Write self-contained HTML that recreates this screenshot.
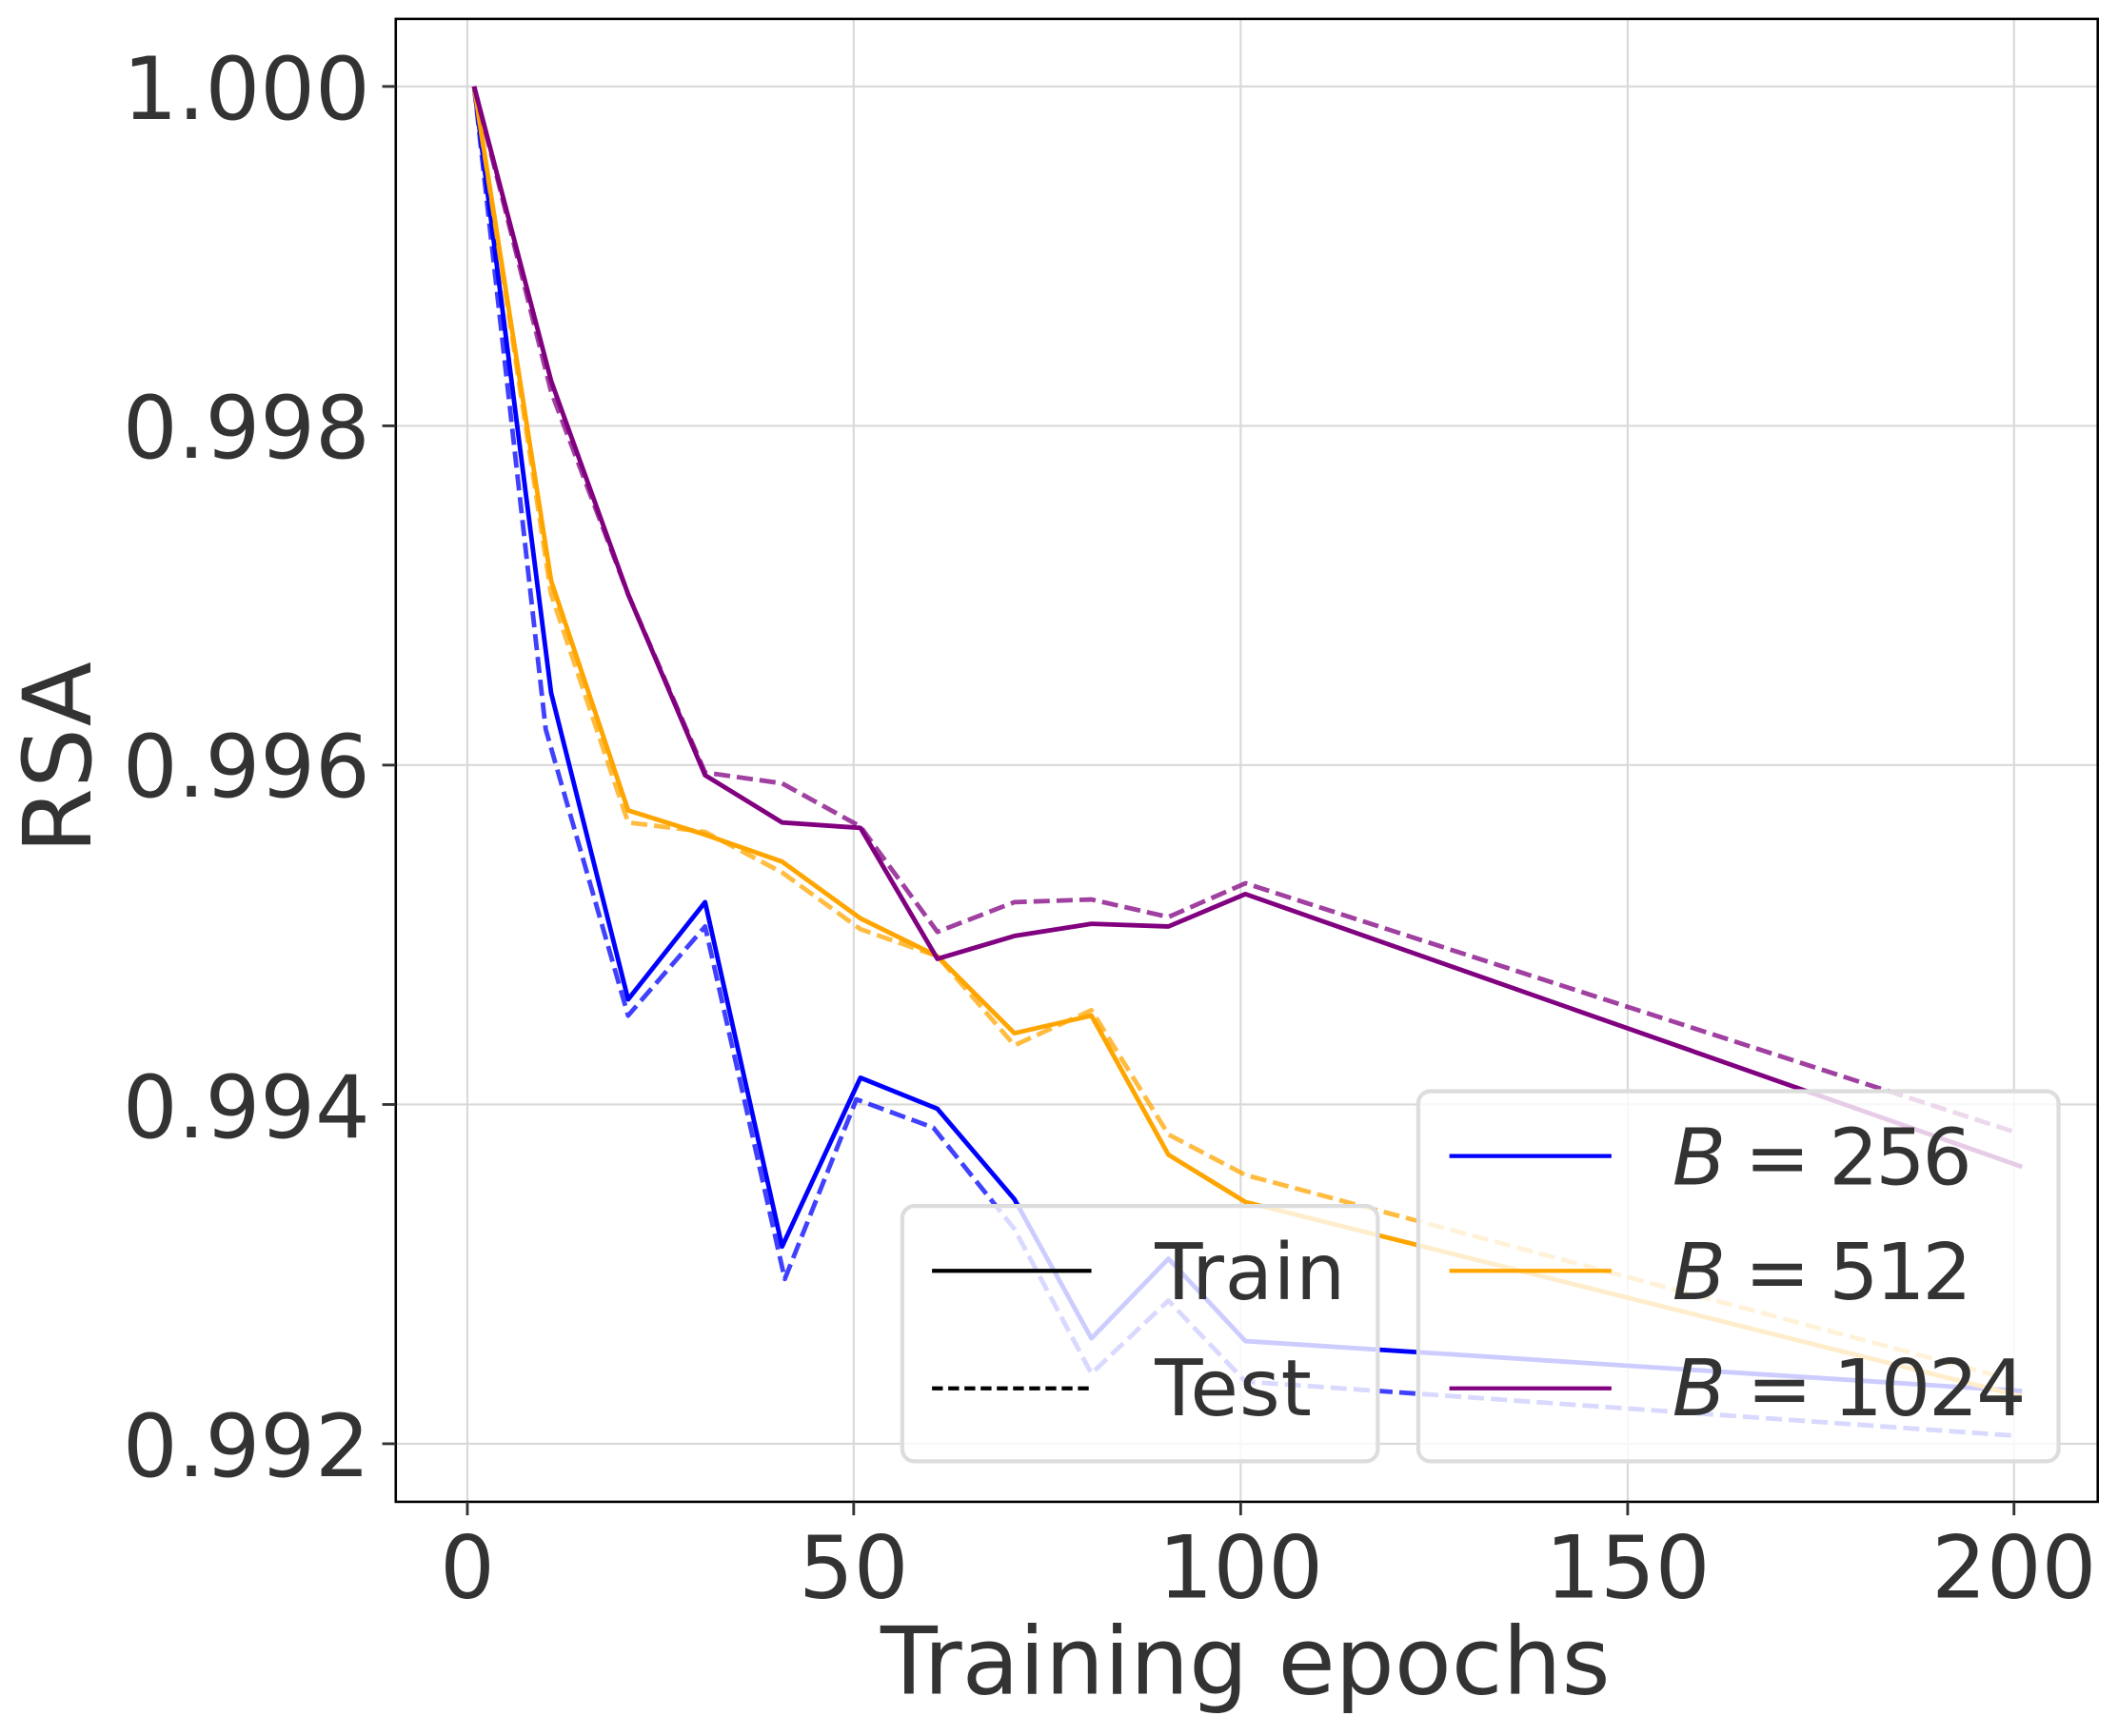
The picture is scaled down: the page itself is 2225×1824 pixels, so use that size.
<!DOCTYPE html>
<html><head><meta charset="utf-8"><style>html,body{margin:0;padding:0;background:#fff}svg{display:block}</style></head>
<body>
<svg width="2225" height="1824" viewBox="0 0 1568 1285.4" xmlns="http://www.w3.org/2000/svg" font-family="'DejaVu Sans','Liberation Sans',sans-serif">
<rect x="0" y="0" width="1568" height="1286" fill="#fff"/>
<g stroke="#d9d9d9" stroke-width="1.5">
<line x1="346" y1="14" x2="346" y2="1112"/><line x1="632" y1="14" x2="632" y2="1112"/><line x1="918.5" y1="14" x2="918.5" y2="1112"/><line x1="1205" y1="14" x2="1205" y2="1112"/><line x1="1491" y1="14" x2="1491" y2="1112"/>
<line x1="293" y1="64" x2="1553" y2="64"/><line x1="293" y1="315.3" x2="1553" y2="315.3"/><line x1="293" y1="566.5" x2="1553" y2="566.5"/><line x1="293" y1="817.8" x2="1553" y2="817.8"/><line x1="293" y1="1069" x2="1553" y2="1069"/>
</g>
<g fill="none" stroke-width="3.4" stroke-linejoin="round">
<polyline stroke="#0000ff" points="351,64 408,513 465,740 522,668 579,923 637,798 694,821 751,888 808,991 865,932 922,993 1497,1030"/>
<polyline stroke="#0000ff" stroke-opacity="0.75" stroke-dasharray="12,5" points="351,64 404,540 465,752 522,686 581,947 634,814 691,835 751,910 808,1017 865,963 922,1023 1491,1063"/>
<polyline stroke="#ffa500" points="351,64 408,430 465,600 522,618 579,638 637,680 694,708 751,765 808,752 865,855 922,890 1497,1034"/>
<polyline stroke="#ffa500" stroke-opacity="0.75" stroke-dasharray="12,5" points="351,64 408,440 465,609 522,616 579,646 637,688 694,708 751,774 808,748 865,840 922,870 1491,1022"/>
<polyline stroke="#800080" points="351,64 408,282 465,440 522,574 579,609 637,613 694,710 751,693 808,684 865,686 922,662 1497,864"/>
<polyline stroke="#800080" stroke-opacity="0.75" stroke-dasharray="12,5" points="351,64 408,290 465,440 522,572 579,580 637,612 694,690 751,668 808,666 865,679 922,654 1491,838"/>
</g>
<rect x="293" y="14" width="1260" height="1098" fill="none" stroke="#000" stroke-width="1.8"/>
<g stroke="#333" stroke-width="2">
<line x1="283" y1="64" x2="293" y2="64"/><line x1="283" y1="315.3" x2="293" y2="315.3"/><line x1="283" y1="566.5" x2="293" y2="566.5"/><line x1="283" y1="817.8" x2="293" y2="817.8"/><line x1="283" y1="1069" x2="293" y2="1069"/>
<line x1="346" y1="1112" x2="346" y2="1122"/><line x1="632" y1="1112" x2="632" y2="1122"/><line x1="918.5" y1="1112" x2="918.5" y2="1122"/><line x1="1205" y1="1112" x2="1205" y2="1122"/><line x1="1491" y1="1112" x2="1491" y2="1122"/>
</g>
<g fill="#333" font-size="64" text-anchor="end">
<text x="274" y="88">1.000</text><text x="274" y="339">0.998</text><text x="274" y="590">0.996</text><text x="274" y="842">0.994</text><text x="274" y="1093">0.992</text>
</g>
<g fill="#333" font-size="64" text-anchor="middle">
<text x="346" y="1183">0</text><text x="632" y="1183">50</text><text x="918.5" y="1183">100</text><text x="1205" y="1183">150</text><text x="1491" y="1183">200</text>
</g>
<text x="922" y="1254" fill="#333" font-size="69" text-anchor="middle">Training epochs</text>
<text transform="translate(67,561) rotate(-90)" fill="#333" font-size="70" text-anchor="middle">RSA</text>
<rect x="668" y="893" width="352" height="189" rx="9" fill="#fff" fill-opacity="0.8" stroke="#dddddd" stroke-width="3"/>
<line x1="690" y1="941" x2="808" y2="941" stroke="#000" stroke-width="3"/>
<line x1="690" y1="1028" x2="808" y2="1028" stroke="#000" stroke-width="3" stroke-dasharray="8,4"/>
<g fill="#333" font-size="58">
<text x="855" y="962" textLength="141">Train</text><text x="855" y="1048" textLength="116">Test</text>
</g>
<rect x="1050" y="808" width="474" height="274" rx="9" fill="#fff" fill-opacity="0.8" stroke="#dddddd" stroke-width="3"/>
<line x1="1073" y1="856" x2="1193" y2="856" stroke="#0000ff" stroke-width="3"/>
<line x1="1073" y1="941" x2="1193" y2="941" stroke="#ffa500" stroke-width="3"/>
<line x1="1073" y1="1028" x2="1193" y2="1028" stroke="#800080" stroke-width="3"/>
<g fill="#333" font-size="58">
<text x="1238" y="877" textLength="222"><tspan font-style="italic">B</tspan> = 256</text>
<text x="1238" y="962" textLength="222"><tspan font-style="italic">B</tspan> = 512</text>
<text x="1238" y="1048" textLength="262"><tspan font-style="italic">B</tspan> = 1024</text>
</g>
</svg>
</body></html>
